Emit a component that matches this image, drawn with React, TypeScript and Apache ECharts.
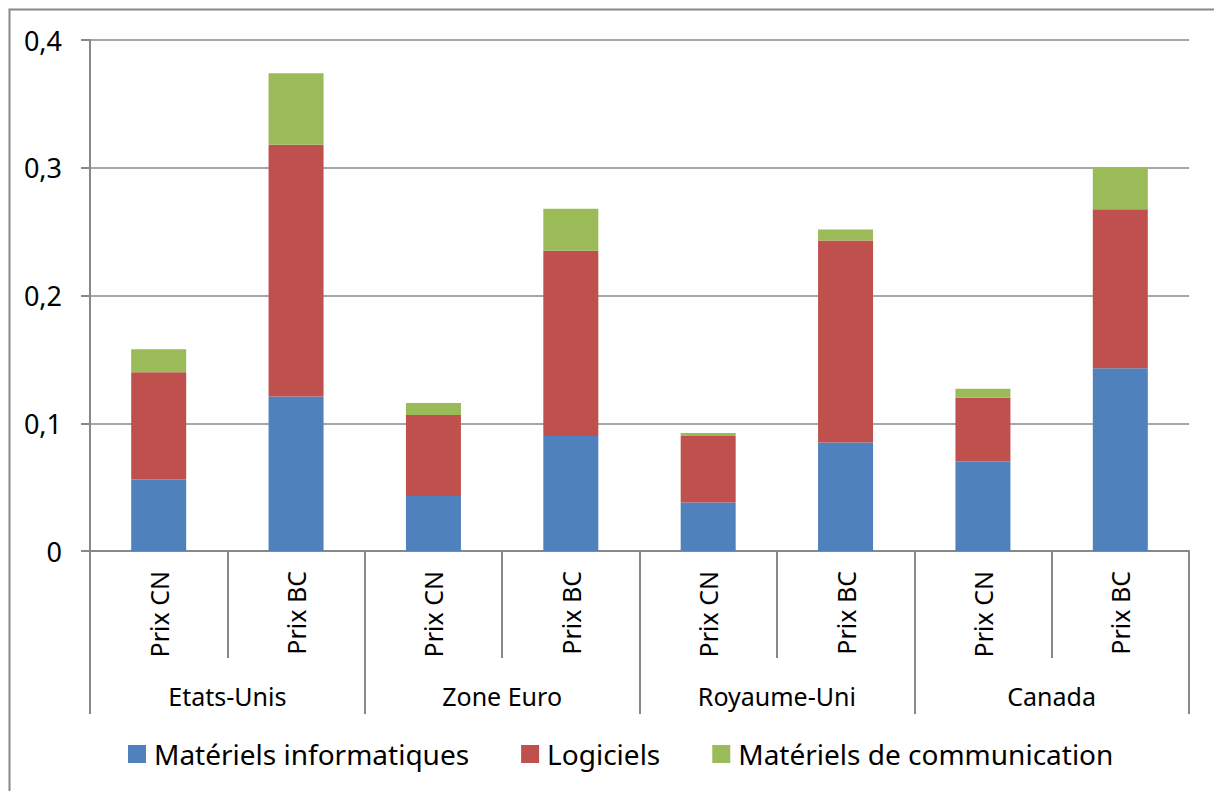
import React, { useEffect, useRef } from "react";
import * as echarts from "echarts";

const categories = ["Prix CN", "Prix BC", "Prix CN", "Prix BC", "Prix CN", "Prix BC", "Prix CN", "Prix BC"];
const groups = ["Etats-Unis", "Zone Euro", "Royaume-Uni", "Canada"];
const materielsInfo = [0.056, 0.121, 0.043, 0.090, 0.038, 0.085, 0.070, 0.143];
const logiciels = [0.084, 0.197, 0.0635, 0.145, 0.052, 0.158, 0.050, 0.1245];
const materielsComm = [0.018, 0.056, 0.0094, 0.033, 0.0024, 0.0086, 0.007, 0.033];
const seriesNames = ["Matériels informatiques", "Logiciels", "Matériels de communication"];
const colors = ["#4F81BD", "#C0504D", "#9BBB59"];

const FONT = "Noto Sans";
const GRAY = "#888888";

export default function App() {
  const ref = useRef<HTMLDivElement>(null);
  useEffect(() => {
    if (!ref.current) return;
    const chart = echarts.init(ref.current, null, { renderer: "svg" });
    const data = [materielsInfo, logiciels, materielsComm];
    chart.setOption({
      animation: false,
      textStyle: { fontFamily: FONT },
      graphic: [
        {
          type: "rect",
          shape: { x: 9.5, y: 9.5, width: 1400, height: 1000 },
          style: { fill: "none", stroke: GRAY, lineWidth: 2 },
          silent: true,
        },
      ],
      grid: { left: 90, right: 25, top: 40, bottom: 240, containLabel: false },
      legend: {
        bottom: 18,
        left: 123,
        itemWidth: 18,
        itemHeight: 18,
        itemGap: 52,
        textStyle: { fontSize: 28, color: "#000", fontFamily: FONT, padding: [0, 0, 0, 3] },
        icon: "rect",
        data: seriesNames,
      },
      xAxis: [
        {
          type: "category",
          data: categories,
          position: "bottom",
          axisLine: { show: true, lineStyle: { color: GRAY, width: 2 } },
          axisTick: { show: true, length: 107, alignWithLabel: false, lineStyle: { color: GRAY, width: 2 } },
          axisLabel: { rotate: 90, margin: 20, fontSize: 25, color: "#000", fontFamily: FONT },
        },
        {
          type: "category",
          data: groups,
          position: "bottom",
          axisLine: { show: false },
          axisTick: { show: true, length: 163, alignWithLabel: false, lineStyle: { color: GRAY, width: 2 } },
          axisLabel: { margin: 132, fontSize: 25, color: "#000", fontFamily: FONT },
        },
      ],
      yAxis: {
        type: "value",
        min: 0,
        max: 0.4,
        interval: 0.1,
        axisLine: { show: true, lineStyle: { color: GRAY, width: 2 } },
        axisTick: { show: true, inside: false, length: 9, lineStyle: { color: GRAY, width: 2 } },
        splitLine: { show: true, lineStyle: { color: GRAY, width: 1.5 } },
        axisLabel: {
          margin: 28,
          fontSize: 27,
          color: "#000",
          fontFamily: FONT,
          formatter: (v: number) => (v === 0 ? "0" : String(Math.round(v * 10) / 10).replace(".", ",")),
        },
      },
      series: seriesNames.map((name, i) => ({
        name,
        type: "bar",
        stack: "total",
        xAxisIndex: 0,
        barWidth: 55,
        itemStyle: { color: colors[i] },
        data: data[i],
      })),
    });
    return () => chart.dispose();
  }, []);
  return (
    <div
      ref={ref}
      style={{ position: "absolute", left: 0, top: 0, width: 1214, height: 791, background: "#fff" }}
    />
  );
}
